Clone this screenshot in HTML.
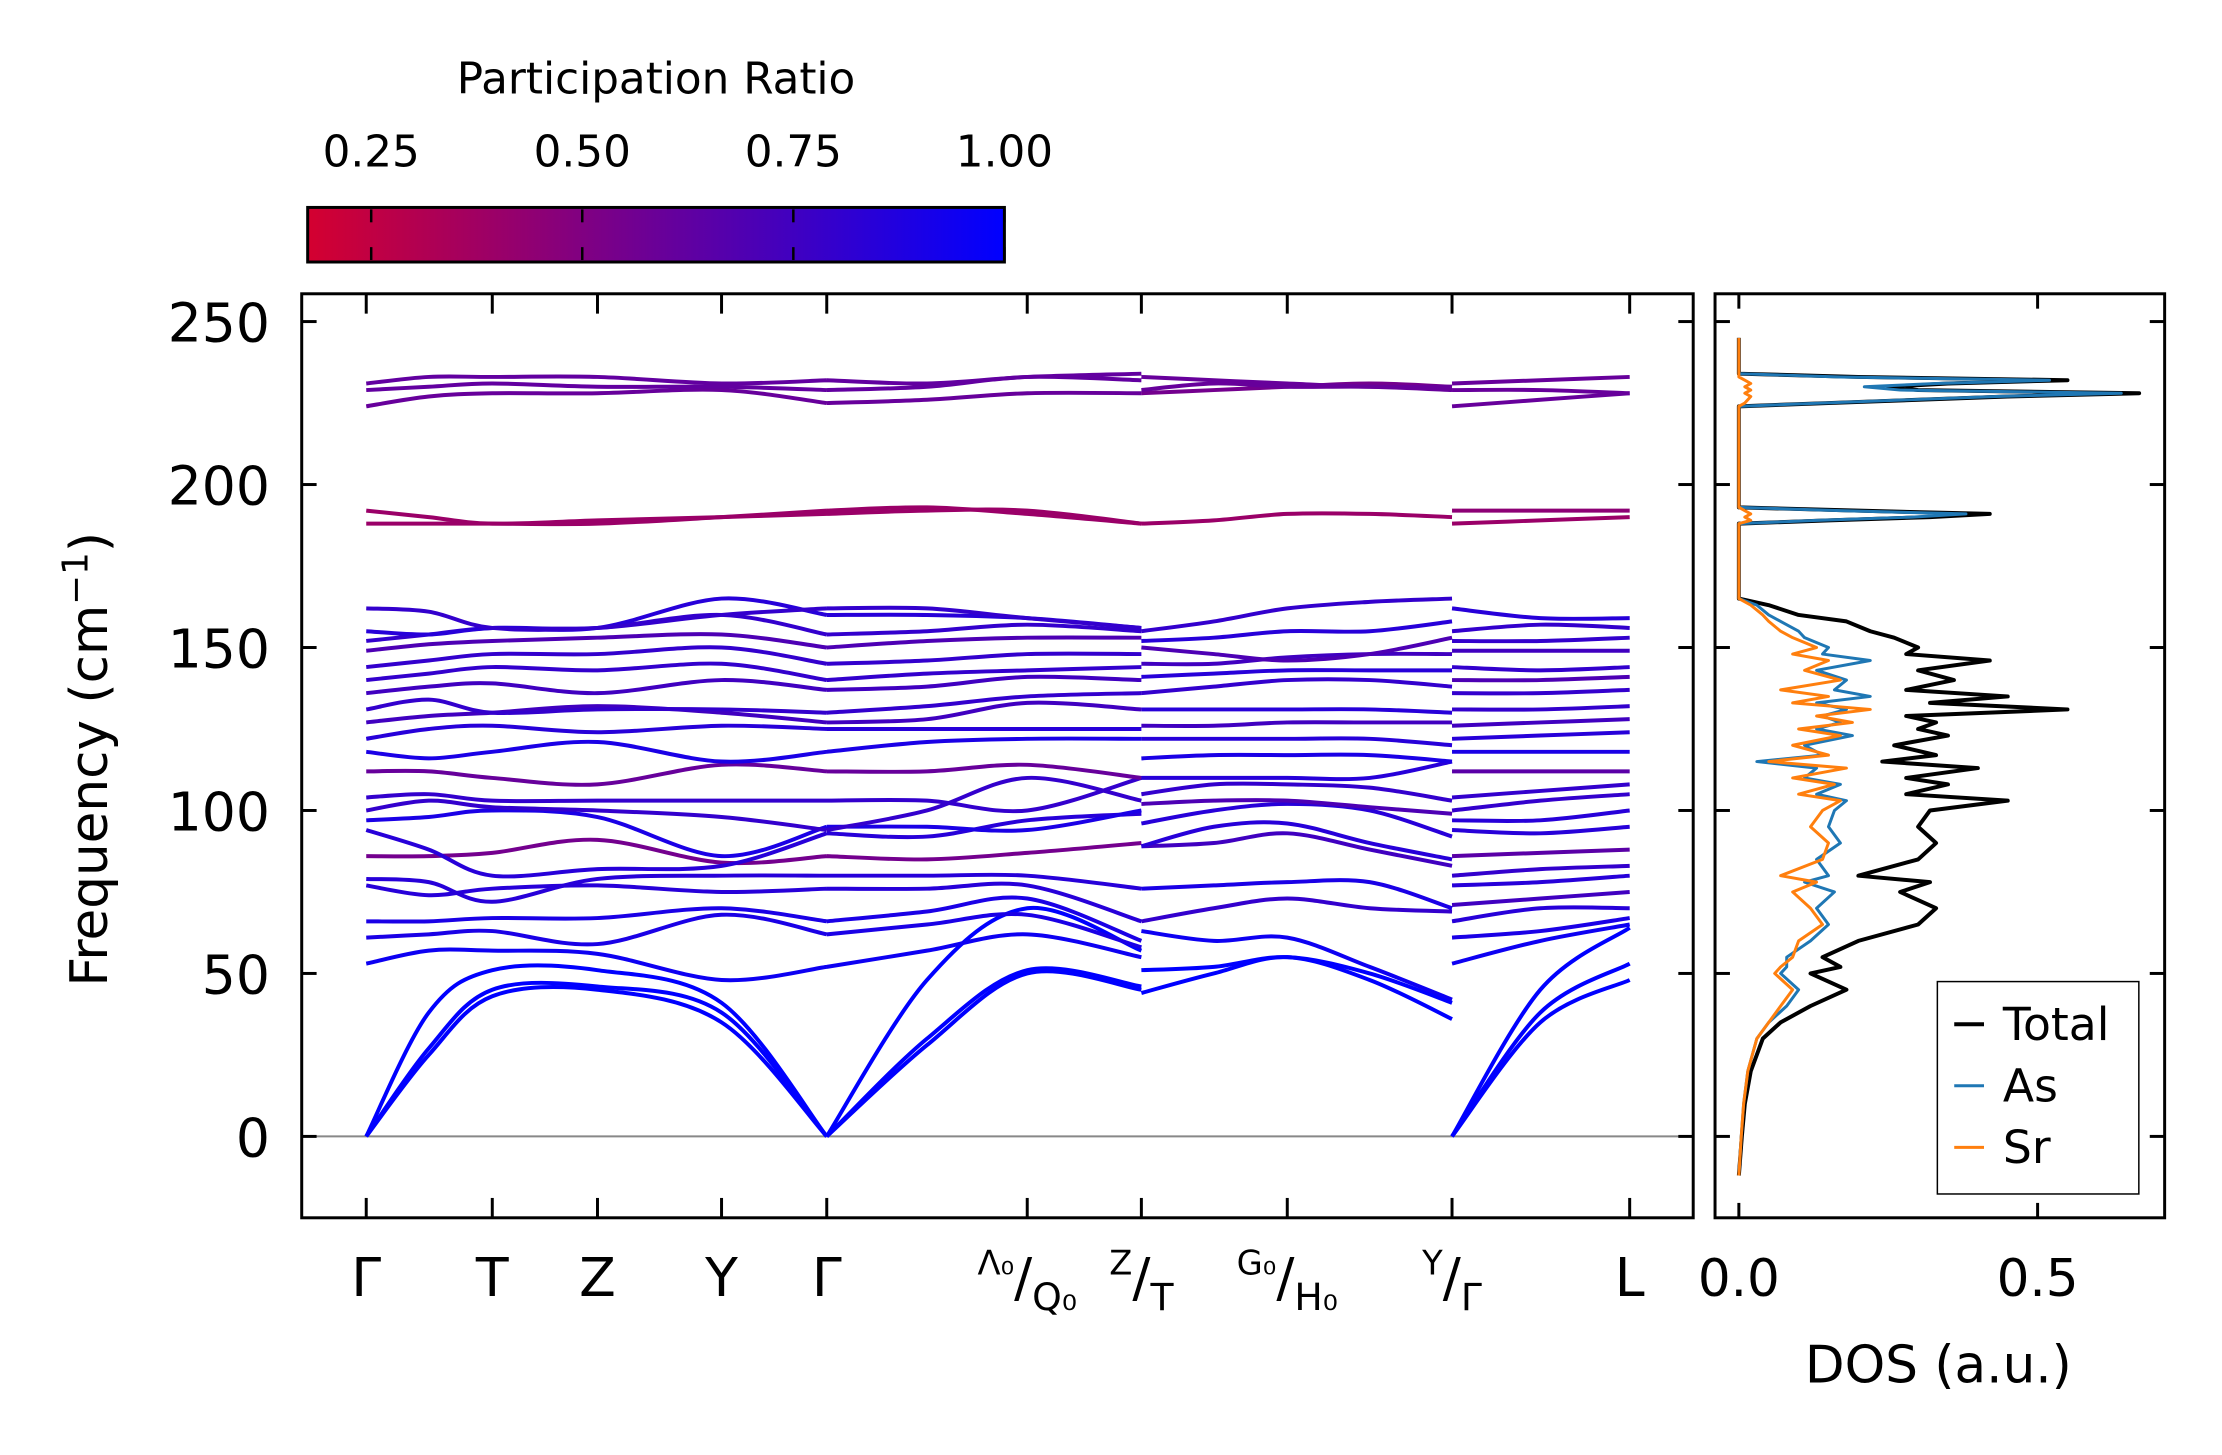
<!DOCTYPE html>
<html><head><meta charset="utf-8"><style>
html,body{margin:0;padding:0;background:#fff;}
svg{display:block;font-family:"DejaVu Sans","Liberation Sans",sans-serif;}
</style></head><body>
<svg id="chart" width="2222" height="1455" viewBox="0 0 2222 1455">
<defs>
<linearGradient id="cmap" x1="0" x2="1" y1="0" y2="0">
<stop offset="0" stop-color="rgb(212,0,48)"/><stop offset="1" stop-color="rgb(0,0,255)"/>
</linearGradient>
<clipPath id="mainclip"><rect x="304" y="296" width="1402" height="931"/></clipPath>
<clipPath id="dosclip"><rect x="1728" y="296" width="453" height="931"/></clipPath>
</defs>
<g id="root" transform="scale(0.9925)">
<g>
<text x="661" y="94" font-size="44" text-anchor="middle">Participation Ratio</text>
<rect x="310" y="209" width="702" height="55" fill="url(#cmap)" stroke="#000" stroke-width="3"/>
<g id="cbticks"></g>
</g>
<g id="mainax"></g>
<g id="dosax"></g>
</g>
</svg>
<script>
// ---- Band structure data ----
const qLabels = ["Γ","T","Z","Y","Γ","Λ0/Q0","Z/T","G0/H0","Y/Γ","L"];
const qTickPos = [369,496,602,727,833,1035,1150,1297,1463,1642]; // axis tick coordinates of q-points
const kNodesA = [369,432,496,602,727,833,934,1035,1150];
const kNodesB = [1150,1223,1297,1380,1463];
const kNodesC = [1463,1552,1642];
const bandsA = [
[0,25,43,45,35,0,28,50,45],[0,27,45,46,38,0,30,51,46],[0,38,51,51,41,0,48,70,57],
[53,57,57,56,48,52,57,62,55],[61,62,63,59,68,62,65,68,58],[66,66,67,67,70,66,69,73,60],
[77,74,76,77,75,76,76,77,66],[79,78,72,79,80,80,80,80,76],[86,86,87,91,84,86,85,87,90],
[94,88,80,82,83,93,92,97,99],[97,98,100,98,86,95,95,94,100],[100,103,101,100,98,94,100,110,103],
[104,105,103,103,103,103,103,100,110],[112,112,110,108,114,112,112,114,110],[118,116,118,121,115,118,121,122,122],
[122,125,126,124,126,125,125,125,125],[127,129,130,132,130,127,128,133,131],[131,134,130,131,131,130,132,135,136],
[136,138,139,136,140,137,138,141,140],[140,142,144,143,145,140,142,143,144],[144,146,148,148,150,145,146,148,148],
[149,151,152,153,154,150,152,153,153],[152,154,156,156,160,154,155,157,155],[155,154,156,156,165,160,160,159,156],
[162,161,156,156,160,162,162,159,156],[188,188,188,188,190,192,193,191,188],[192,190,188,189,190,191,192,192,188],
[224,227,228,228,229,225,226,228,228],[229,230,231,230,230,229,230,233,232],[231,233,233,233,231,232,231,233,234]];
const prA = [1,1,1,0.95,0.9,0.9,0.85,0.85,0.55,0.85,0.9,0.8,0.8,0.6,0.9,0.85,0.75,0.8,0.75,0.8,0.8,0.7,0.8,0.85,0.8,0.4,0.4,0.6,0.62,0.62];
const bandsB = [
[44,50,55,48,36],[51,52,55,50,41],[63,60,61,52,42],[66,70,73,70,69],[76,77,78,78,70],
[89,90,93,88,83],[89,95,96,90,85],[96,100,102,100,92],[102,103,103,101,99],[105,108,108,107,103],
[110,110,110,110,115],[116,117,117,117,115],[122,122,122,122,120],[126,126,127,127,127],[131,131,131,131,130],
[136,138,140,140,138],[141,142,143,143,143],[145,145,147,148,148],[150,148,146,148,153],[152,153,155,155,158],
[155,158,162,164,165],[188,189,191,191,190],[228,229,230,231,230],[229,231,230,230,229],[233,232,231,230,230]];
const prB = [1,1,0.95,0.8,0.9,0.75,0.85,0.85,0.7,0.8,0.85,0.9,0.85,0.75,0.85,0.8,0.85,0.75,0.7,0.85,0.8,0.4,0.55,0.6,0.6];
const bandsC = [
[0,35,48],[0,38,53],[0,45,64],[53,60,65],[61,63,67],[66,70,70],[71,73,75],[77,78,80],[80,82,83],
[86,87,88],[94,93,95],[97,97,100],[100,103,105],[104,106,108],[112,112,112],[118,118,118],[122,123,124],
[126,127,128],[131,131,132],[136,136,137],[140,140,141],[144,143,144],[149,149,149],[152,152,153],
[155,157,156],[162,159,159],[188,189,190],[192,192,192],[224,226,228],[229,229,228],[231,232,233]];
const prC = [1,1,1,0.95,0.9,0.85,0.75,0.85,0.8,0.65,0.85,0.85,0.8,0.8,0.65,0.9,0.85,0.75,0.8,0.8,0.7,0.8,0.75,0.8,0.8,0.85,0.4,0.45,0.6,0.6,0.6];
const freqTicks = [0,50,100,150,200,250];
const cbTicks = [0.25,0.50,0.75,1.00];
// ---- DOS data ----
const dosFreq = [-12,0,10,20,30,35,40,45,50,52,55,60,65,70,75,78,80,85,90,95,100,103,105,108,110,113,115,117,120,123,125,127,129,131,133,135,137,140,143,146,148,150,153,155,158,160,163,165,187,188,189,190,191,192,193,223,224,225,227,228,229,230,231,232,233,234,235,245];
const dosTotal = [0,0.005,0.01,0.02,0.04,0.07,0.12,0.18,0.12,0.17,0.14,0.2,0.3,0.33,0.27,0.32,0.2,0.3,0.33,0.3,0.32,0.45,0.28,0.35,0.28,0.4,0.24,0.33,0.26,0.35,0.3,0.33,0.28,0.55,0.32,0.45,0.28,0.36,0.3,0.42,0.28,0.3,0.26,0.22,0.18,0.1,0.05,0,0,0,0.15,0.32,0.42,0.2,0,0,0,0.15,0.45,0.67,0.3,0.25,0.35,0.55,0.2,0,0,0];
const dosAs = [0,0.004,0.008,0.015,0.03,0.05,0.08,0.1,0.07,0.08,0.08,0.12,0.15,0.13,0.16,0.11,0.15,0.13,0.17,0.15,0.16,0.18,0.13,0.17,0.11,0.13,0.03,0.14,0.11,0.19,0.13,0.17,0.14,0.18,0.13,0.22,0.16,0.18,0.13,0.22,0.14,0.15,0.11,0.1,0.07,0.05,0.03,0,0,0,0.13,0.29,0.38,0.17,0,0,0,0.14,0.43,0.64,0.27,0.21,0.33,0.52,0.17,0,0,0];
const dosSr = [0,0.004,0.008,0.015,0.03,0.05,0.07,0.09,0.06,0.07,0.09,0.1,0.14,0.12,0.09,0.13,0.07,0.14,0.15,0.12,0.14,0.17,0.1,0.16,0.09,0.18,0.05,0.15,0.09,0.17,0.1,0.19,0.13,0.22,0.09,0.15,0.07,0.17,0.11,0.15,0.09,0.13,0.09,0.07,0.05,0.04,0.02,0,0,0,0.02,0.01,0.02,0.01,0,0,0,0.01,0.02,0.01,0.02,0.01,0.02,0.01,0,0,0,0];
const dosTicks = [0.0,0.5];

const NS="http://www.w3.org/2000/svg";
function mk(tag,attrs,parent){const e=document.createElementNS(NS,tag);for(const k in attrs)e.setAttribute(k,attrs[k]);parent.appendChild(e);return e;}
const yF = f => 1145 - (f-0)*(1145-324)/250;
const xDos = v => 1752 + v*(2053-1752)/0.5;
const xCb = v => 374 + (v-0.25)*(1012-374)/0.75;
function prColor(p){let t=(p-0.175)/(1-0.175);t=Math.max(0,Math.min(1,t));return `rgb(${Math.round(212*(1-t))},0,${Math.round(48+207*t)})`;}

const cbg=document.getElementById('cbticks');
cbTicks.forEach(v=>{
  const x=xCb(v);
  const l1=mk('line',{x1:x,x2:x,y1:211,y2:224,stroke:'#000','stroke-width':2.5},cbg);
  
  
  const l2=mk('line',{x1:x,x2:x,y1:249,y2:262,stroke:'#000','stroke-width':2.5},cbg);
  
  
  const t=mk('text',{x:x,y:168,'font-size':44,'text-anchor':'middle'},cbg);t.textContent=v.toFixed(2);
  
  
});

const m=document.getElementById('mainax');
const zl=mk('line',{x1:304,x2:1706,y1:yF(0),y2:yF(0),stroke:'#888','stroke-width':2},m);


const bandG=mk('g',{'clip-path':'url(#mainclip)',fill:'none','stroke-width':4,'stroke-linejoin':'round'},m);


function smoothPath(xs,ys){
  let d=`M${xs[0]},${ys[0].toFixed(1)}`;
  for(let i=0;i<xs.length-1;i++){
    const x0=xs[Math.max(0,i-1)],y0=ys[Math.max(0,i-1)],x1=xs[i],y1=ys[i],x2=xs[i+1],y2=ys[i+1],x3=xs[Math.min(xs.length-1,i+2)],y3=ys[Math.min(xs.length-1,i+2)];
    const c1x=x1+(x2-x0)/6,c1y=y1+(y2-y0)/6,c2x=x2-(x3-x1)/6,c2y=y2-(y3-y1)/6;
    d+=` C${c1x.toFixed(1)},${c1y.toFixed(1)} ${c2x.toFixed(1)},${c2y.toFixed(1)} ${x2},${y2.toFixed(1)}`;
  }
  return d;
}
function drawSection(nodes,bands,prs,name,splitAt){
  bands.forEach((b,i)=>{
    const ys=b.map(yF);
    let d;
    if(splitAt){
      d=smoothPath(nodes.slice(0,splitAt+1),ys.slice(0,splitAt+1))+' '+smoothPath(nodes.slice(splitAt),ys.slice(splitAt));
    } else d=smoothPath(nodes,ys);
    const p=mk('path',{d:d,stroke:prColor(prs[i])},bandG);
    
    
  });
}
drawSection(kNodesA,bandsA,prA,'path-a',5);
drawSection(kNodesB,bandsB,prB,'path-b');
drawSection(kNodesC,bandsC,prC,'path-c');
const frame=mk('rect',{x:304,y:296,width:1402,height:931,fill:'none',stroke:'#000','stroke-width':3},m);


freqTicks.forEach(f=>{
  const y=yF(f);
  const a=mk('line',{x1:304,x2:319,y1:y,y2:y,stroke:'#000','stroke-width':3},m);
  
  
  const b=mk('line',{x1:1691,x2:1706,y1:y,y2:y,stroke:'#000','stroke-width':3},m);
  
  
  const t=mk('text',{x:272,y:y+20,'font-size':54,'text-anchor':'end'},m);t.textContent=f;
  
  
});
qTickPos.forEach((x,i)=>{
  const a=mk('line',{x1:x,x2:x,y1:1227,y2:1207,stroke:'#000','stroke-width':3},m);
  
  
  const b=mk('line',{x1:x,x2:x,y1:296,y2:316,stroke:'#000','stroke-width':3},m);
  
  
  const lab=qLabels[i];
  const t=mk('text',{x:x,y:1306,'font-size':54,'text-anchor':'middle'},m);
  
  
  if(lab.includes('/')){
    const [a1,b1]=lab.split('/');
    const sub=s=>s.replace('0','\u2080');
    const s1=mk('tspan',{'font-size':34,dy:-22},t);s1.textContent=sub(a1);
    const s2=mk('tspan',{'font-size':54,dy:22},t);s2.textContent='/';
    const s3=mk('tspan',{'font-size':38,dy:14},t);s3.textContent=sub(b1);
  } else t.textContent=lab;
});
const yl=mk('text',{x:0,y:0,'font-size':52,'text-anchor':'middle',transform:'translate(108,765) rotate(-90)'},m);


yl.innerHTML='Frequency (cm<tspan font-size="36" dy="-20">−1</tspan><tspan dy="20">)</tspan>';

const d=document.getElementById('dosax');
const dg=mk('g',{'clip-path':'url(#dosclip)',fill:'none','stroke-linejoin':'round'},d);
function dosLine(vals,color,w,name){
  const pts=vals.map((v,i)=>`${xDos(v).toFixed(1)},${yF(dosFreq[i]).toFixed(1)}`).join(' ');
  const p=mk('polyline',{points:pts,stroke:color,'stroke-width':w},dg);
  
  
}
dosLine(dosTotal,'#000',4,'dos-total-line');
dosLine(dosAs,'#1f77b4',3,'dos-as-line');
dosLine(dosSr,'#ff7f0e',3,'dos-sr-line');
const df=mk('rect',{x:1728,y:296,width:453,height:931,fill:'none',stroke:'#000','stroke-width':3},d);


freqTicks.forEach(f=>{
  const y=yF(f);
  const a=mk('line',{x1:1728,x2:1743,y1:y,y2:y,stroke:'#000','stroke-width':3},d);
  
  
  const b=mk('line',{x1:2166,x2:2181,y1:y,y2:y,stroke:'#000','stroke-width':3},d);
  
  
});
dosTicks.forEach(v=>{
  const x=xDos(v);
  const a=mk('line',{x1:x,x2:x,y1:1227,y2:1212,stroke:'#000','stroke-width':3},d);
  
  
  const b=mk('line',{x1:x,x2:x,y1:296,y2:311,stroke:'#000','stroke-width':3},d);
  
  
  const t=mk('text',{x:x,y:1306,'font-size':52,'text-anchor':'middle'},d);t.textContent=v.toFixed(1);
  
  
});
const xl=mk('text',{x:1953,y:1393,'font-size':52,'text-anchor':'middle'},d);xl.textContent='DOS (a.u.)';


const lg=mk('g',{},d);


mk('rect',{x:1952,y:989,width:203,height:214,fill:'#fff',stroke:'#000','stroke-width':1.5},lg);
const legNames=['Total','As','Sr'],legCols=['#000','#1f77b4','#ff7f0e'],legW=[4,3,3];
legNames.forEach((n,i)=>{
  const y=1032+i*62;
  const l=mk('line',{x1:1969,x2:1999,y1:y,y2:y,stroke:legCols[i],'stroke-width':legW[i]},lg);
  
  
  const t=mk('text',{x:2018,y:y+16,'font-size':46},lg);t.textContent=n;
  
  
});
</script>
</body></html>
